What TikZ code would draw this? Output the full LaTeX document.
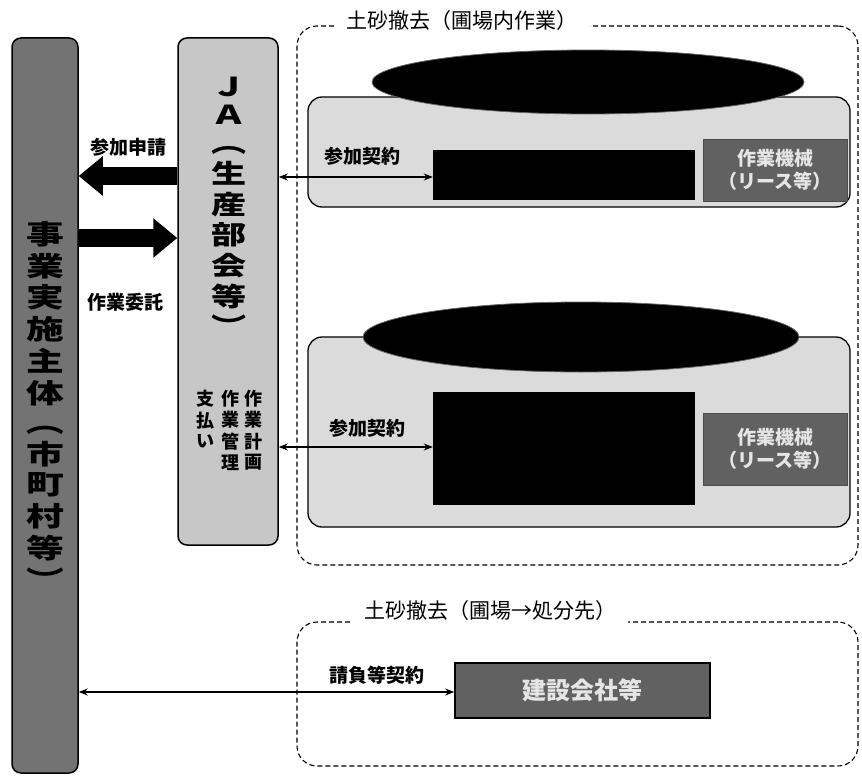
\documentclass[tikz,border=0pt]{standalone}
\usepackage{fontspec}
\setmainfont{Noto Sans CJK JP}
\usetikzlibrary{arrows.meta,shapes.geometric}
\newcommand{\myvstack}[1]{\begin{tabular}{@{}c@{}}#1\end{tabular}}
\begin{document}
\begin{tikzpicture}[x=1pt,y=-1pt,
  rbox/.style={draw, line width=1.5pt, rounded corners=9pt, inner sep=0pt},
  region/.style={draw, line width=1.1pt, dash pattern=on 5pt off 3pt, rounded corners=20pt, inner sep=0pt},
  subbox/.style={draw, line width=1.3pt, rounded corners=14pt, fill=black!14, inner sep=0pt},
  oval/.style={ellipse, draw=black!60, line width=0.8pt, fill=black, inner sep=0pt},
  blackbox/.style={fill=black, inner sep=0pt},
  greybox/.style={draw=black!70, line width=0.8pt, fill=black!62, text=black!10, inner sep=0pt, align=center, font=\fontsize{19}{23}\selectfont\bfseries},
  title/.style={fill=white, inner xsep=12pt, inner ysep=3pt, font=\fontsize{21}{23}\selectfont},
  lbl/.style={inner sep=1pt, font=\fontsize{19}{21}\selectfont\bfseries},
  vtxt/.style={inner sep=0pt},
  bigarrow/.style={line width=18pt, -{Triangle[length=24pt,width=38pt]}},
  thinarrow/.style={line width=1.2pt, {Stealth[length=9pt,width=7pt]}-{Stealth[length=9pt,width=7pt]}}
]
\useasboundingbox (0,0) rectangle (862,776);

% left column
\node[rbox, fill=black!55, minimum width=66pt, minimum height=735pt] (lc) at (45,405.5) {};
\node[vtxt, font=\fontsize{27}{29}\selectfont\bfseries] (lct) at (45,410)
  {\scalebox{1.4}[1]{\myvstack{事\\業\\実\\施\\主\\体\\︵\\市\\町\\村\\等\\︶}}};

% JA column
\node[rbox, fill=black!22, minimum width=100pt, minimum height=507pt] (ja) at (228,291.5) {};
\node[vtxt, font=\fontsize{26}{28}\selectfont\bfseries] (jat) at (229,211)
  {\scalebox{1.35}[1]{\myvstack{Ｊ\\Ａ\\︵\\生\\産\\部\\会\\等\\︶}}};
\node[vtxt, anchor=north, font=\fontsize{18}{20}\selectfont\bfseries] (jp1) at (253,390) {\myvstack{作\\業\\計\\画}};
\node[vtxt, anchor=north, font=\fontsize{18}{20}\selectfont\bfseries] (jp2) at (230,390) {\myvstack{作\\業\\管\\理}};
\node[vtxt, anchor=north, font=\fontsize{18}{20}\selectfont\bfseries] (jp3) at (205,390) {\myvstack{支\\払\\い}};

% big arrows
\draw[bigarrow] (ja.west |- 0,176) -- (lc.east |- 0,176);
\draw[bigarrow] (lc.east |- 0,238) -- (ja.west |- 0,238);
\node[lbl] (a1) at (128,147) {参加申請};
\node[lbl] (a2) at (125,302) {作業委託};

% region 1
\node[region, minimum width=561pt, minimum height=539pt] (r1) at (577.5,295.5) {};
\node[title] (r1t) at (462,21) {土砂撤去（圃場内作業）};

\node[subbox, minimum width=542pt, minimum height=110pt] (s1) at (579,152) {};
\node[oval, minimum width=432pt, minimum height=64pt] (e1) at (588,82) {};
\node[blackbox, minimum width=262pt, minimum height=50pt] (b1) at (564,175) {};
\node[greybox, minimum width=144pt, minimum height=62pt] (g1) at (775,170) {作業機械\\（リース等）};
\node[lbl] (l1) at (362,156) {参加契約};
\draw[thinarrow] (ja.east |- 0,177) -- (b1.west |- 0,177);

\node[subbox, minimum width=542pt, minimum height=190pt] (s2) at (579,432) {};
\node[oval, minimum width=436pt, minimum height=70pt] (e2) at (581,337) {};
\node[blackbox, minimum width=262pt, minimum height=113pt] (b2) at (564,448.5) {};
\node[greybox, minimum width=144pt, minimum height=72pt] (g2) at (775,449) {作業機械\\（リース等）};
\node[lbl] (l2) at (367,428) {参加契約};
\draw[thinarrow] (ja.east |- 0,447) -- (b2.west |- 0,447);

% region 2
\node[region, minimum width=561pt, minimum height=144pt] (r2) at (577.5,694) {};
\node[title] (r2t) at (490,611) {土砂撤去（圃場→処分先）};
\node[greybox, draw=black, line width=1.5pt, minimum width=255pt, minimum height=55pt, font=\fontsize{24}{26}\selectfont\bfseries] (kc) at (582.5,690.5) {建設会社等};
\node[lbl] (l3) at (377,675) {請負等契約};
\draw[thinarrow] (lc.east |- 0,692) -- (kc.west |- 0,692);
\end{tikzpicture}
\end{document}
